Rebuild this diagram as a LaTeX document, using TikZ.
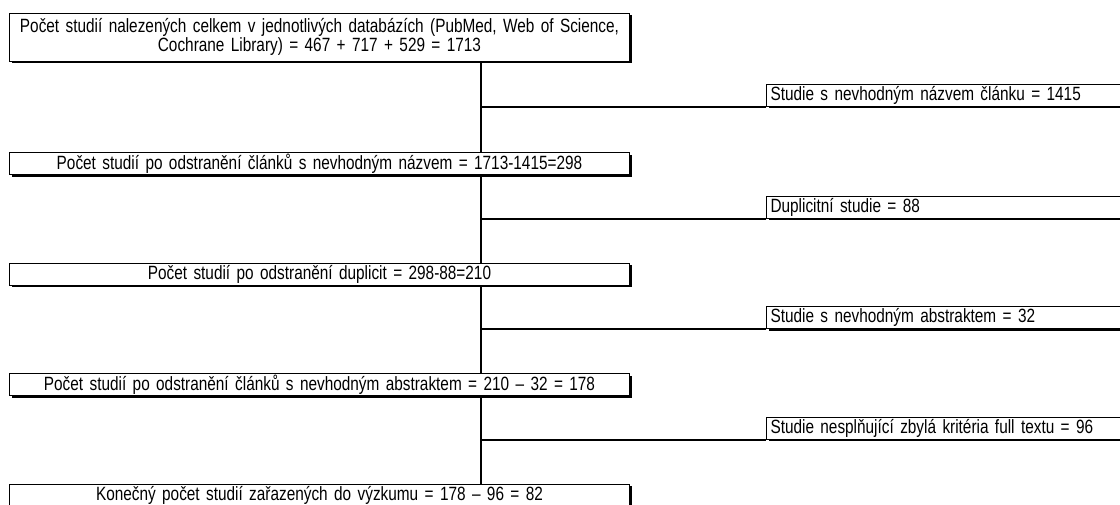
\documentclass[tikz,border=0pt]{standalone}
\usepackage{fontspec}
\setmainfont{Liberation Sans}[FakeStretch=0.8]
\usetikzlibrary{positioning,calc,shadows}
\tikzset{
  % Define style for boxes of the main flow
  stepbox/.style={
    rectangle,
    draw=black, line width=0.75pt, fill=white,
    drop shadow={shadow xshift=1.5pt, shadow yshift=-1.5pt, fill=black, opacity=1},
    text width=459pt,
    inner xsep=3pt, inner ysep=0pt,
    minimum height=16.5pt,
    align=center,
    font=\fontsize{14.4}{14.8}\selectfont},
  % Define style for boxes of excluded studies
  sidebox/.style={
    stepbox,
    text width=400pt,
    align=left},
  % line
  line/.style = {draw, line width=1.5pt},
}
\begin{document}
\begin{tikzpicture}[node distance=65.6pt]
  \useasboundingbox (0,0) rectangle (840pt,-378pt);
  \clip (0,0) rectangle (840pt,-378pt);
  % nodes
  \node[stepbox, minimum height=36pt, anchor=north west] (n1) at (6.75pt,-9.4pt)
  {Počet studií nalezených celkem v jednotlivých databázích (PubMed, Web of Science,\\ Cochrane Library) = 467 + 717 + 529 = 1713};
  \node[stepbox, below=68pt of n1] (n2) {Počet studií po odstranění článků s nevhodným názvem = 1713-1415=298};
  \node[stepbox, below=of n2] (n3) {Počet studií po odstranění duplicit = 298-88=210};
  \node[stepbox, below=of n3] (n4) {Počet studií po odstranění článků s nevhodným abstraktem = 210 – 32 = 178};
  \node[stepbox, below=of n4] (n5) {Konečný počet studií zařazených do výzkumu = 178 – 96 = 82};
  % branch points
  \coordinate (spine) at ($(n1.south west)+(354pt,0)$);
  \coordinate (b1) at ($(n1.south -| spine)!0.5!(n2.north -| spine)$);
  \coordinate (b2) at ($(n2.south -| spine)!0.5!(n3.north -| spine)$);
  \coordinate (b3) at ($(n3.south -| spine)!0.5!(n4.north -| spine)$);
  \coordinate (b4) at ($(n4.south -| spine)!0.5!(n5.north -| spine)$);
  \node[sidebox, anchor=south west] (r1) at ($(b1)+(213.75pt,0)$) {Studie s nevhodným názvem článku = 1415};
  \node[sidebox, anchor=south west] (r2) at ($(b2)+(213.75pt,0)$) {Duplicitní studie = 88};
  \node[sidebox, anchor=south west] (r3) at ($(b3)+(213.75pt,0)$) {Studie s nevhodným abstraktem = 32};
  \node[sidebox, anchor=south west] (r4) at ($(b4)+(213.75pt,0)$) {Studie nesplňující zbylá kritéria full textu = 96};
  % connectors
  \path[line] (n1.south -| spine) -- (n2.north -| spine);
  \path[line] (n2.south -| spine) -- (n3.north -| spine);
  \path[line] (n3.south -| spine) -- (n4.north -| spine);
  \path[line] (n4.south -| spine) -- (n5.north -| spine);
  \path[line] (b1) -- (r1.south west);
  \path[line] (b2) -- (r2.south west);
  \path[line] (b3) -- (r3.south west);
  \path[line] (b4) -- (r4.south west);
\end{tikzpicture}
\end{document}
